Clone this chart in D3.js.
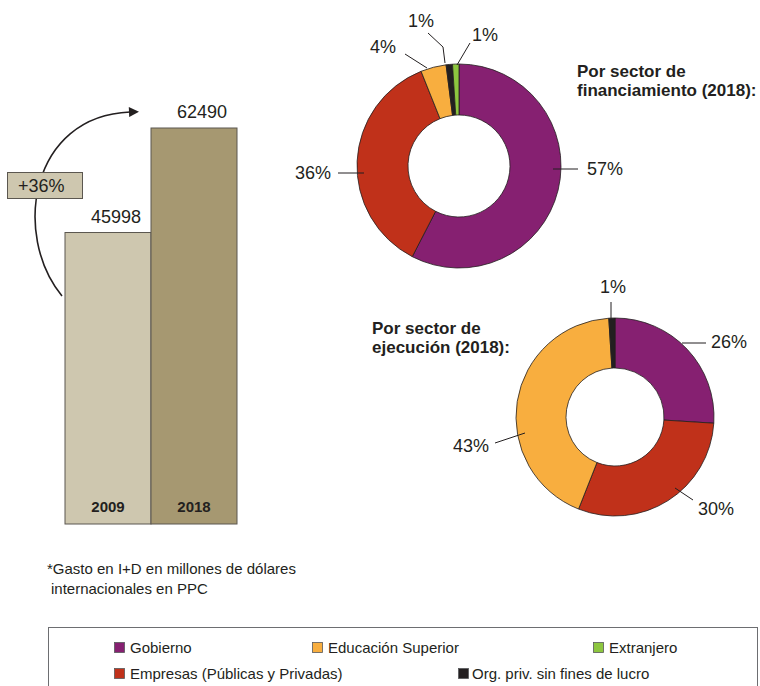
<!DOCTYPE html>
<html>
<head>
<meta charset="utf-8">
<script src="https://cdn.jsdelivr.net/npm/d3@7"></script>
<style>
  html, body { margin: 0; padding: 0; background: #ffffff; }
  svg { display: block; font-family: "Liberation Sans", Arial, sans-serif; }
</style>
</head>
<body>
<svg id="chart" width="760" height="686"></svg>
<script>
// ---------------- DATA ----------------
const years = ["2009", "2018"];
const spending = [45998, 62490];
const growthLabel = "+36%";

const finSectors = ["Gobierno", "Empresas (Públicas y Privadas)", "Educación Superior", "Org. priv. sin fines de lucro", "Extranjero"];
const finValues = [57, 36, 4, 1, 1];

const ejeSectors = ["Gobierno", "Empresas (Públicas y Privadas)", "Educación Superior", "Org. priv. sin fines de lucro"];
const ejeValues = [26, 30, 43, 1];

const legendOrder = ["Gobierno", "Educación Superior", "Extranjero", "Empresas (Públicas y Privadas)", "Org. priv. sin fines de lucro"];

const finTitle = ["Por sector de", "financiamiento (2018):"];
const ejeTitle = ["Por sector de", "ejecución (2018):"];
const footnote = ["*Gasto en I+D en millones de dólares", "internacionales en PPC"];

// ---------------- STYLE ----------------
const ink = "#231f20";
const sectorColor = d3.scaleOrdinal()
  .domain(["Gobierno", "Empresas (Públicas y Privadas)", "Educación Superior", "Org. priv. sin fines de lucro", "Extranjero"])
  .range(["#862071", "#c0311a", "#f8ae3f", "#231f20", "#8dc63f"]);
const barColor = d3.scaleOrdinal().domain(years).range(["#cec7af", "#a69871"]);

const svg = d3.select("#chart");

// ---------------- BAR CHART ----------------
const x = d3.scaleBand().domain(years).range([65, 237]).padding(0);
const y = d3.scaleLinear().domain([0, d3.max(spending)]).range([524, 128]);

const barG = svg.append("g");
barG.selectAll("rect.bar")
  .data(years)
  .join("rect")
  .attr("class", "bar")
  .attr("x", d => x(d))
  .attr("y", (d, i) => y(spending[i]))
  .attr("width", x.bandwidth())
  .attr("height", (d, i) => y(0) - y(spending[i]))
  .attr("fill", d => barColor(d))
  .attr("stroke", "#5b5750")
  .attr("stroke-width", 1);

barG.selectAll("text.val")
  .data(years)
  .join("text")
  .attr("class", "val")
  .attr("x", d => x(d) + x.bandwidth() / 2 + 8)
  .attr("y", (d, i) => y(spending[i]) - 10)
  .attr("text-anchor", "middle")
  .attr("font-size", 18)
  .attr("fill", ink)
  .text((d, i) => spending[i]);

barG.selectAll("text.year")
  .data(years)
  .join("text")
  .attr("class", "year")
  .attr("x", d => x(d) + x.bandwidth() / 2)
  .attr("y", 512)
  .attr("text-anchor", "middle")
  .attr("font-size", 15)
  .attr("font-weight", "bold")
  .attr("fill", ink)
  .text(d => d);

// growth arrow
const defs = svg.append("defs");
defs.append("marker")
  .attr("id", "arrowhead")
  .attr("viewBox", "0 0 10 10")
  .attr("refX", 1)
  .attr("refY", 5)
  .attr("markerWidth", 11)
  .attr("markerHeight", 10)
  .attr("markerUnits", "userSpaceOnUse")
  .attr("orient", "auto")
  .append("path")
  .attr("d", "M0,0 L10,5 L0,10 Z")
  .attr("fill", ink);

svg.append("path")
  .attr("d", "M62,296 C12,235 30,116 130,112")
  .attr("fill", "none")
  .attr("stroke", ink)
  .attr("stroke-width", 1.6)
  .attr("marker-end", "url(#arrowhead)");

svg.append("rect")
  .attr("x", 7.5).attr("y", 172.5)
  .attr("width", 75).attr("height", 26)
  .attr("fill", "#cec7af")
  .attr("stroke", "#5b5750")
  .attr("stroke-width", 1);
svg.append("text")
  .attr("x", 18).attr("y", 192)
  .attr("font-size", 18)
  .attr("fill", ink)
  .text(growthLabel);

// ---------------- DONUTS ----------------
const pie = d3.pie().sort(null).value(d => d);

function donut(cx, cy, R, r, sectors, values) {
  const arc = d3.arc().innerRadius(r).outerRadius(R);
  const g = svg.append("g").attr("transform", `translate(${cx},${cy})`);
  g.selectAll("path")
    .data(pie(values))
    .join("path")
    .attr("d", arc)
    .attr("fill", (d, i) => sectorColor(sectors[i]))
    .attr("stroke", ink)
    .attr("stroke-width", 0.8);
}

function label(txt, tx, ty, pts) {
  svg.append("polyline")
    .attr("points", pts.map(p => p.join(",")).join(" "))
    .attr("fill", "none")
    .attr("stroke", ink)
    .attr("stroke-width", 1);
  svg.append("text")
    .attr("x", tx).attr("y", ty)
    .attr("font-size", 18)
    .attr("fill", ink)
    .text(txt);
}

donut(459, 166, 102, 51, finSectors, finValues);
donut(615, 417, 99, 49, ejeSectors, ejeValues);

const pct = v => v + "%";
// financing labels
label(pct(finValues[0]), 587, 175, [[553, 169], [578, 169]]);
label(pct(finValues[1]), 295, 179, [[338, 173], [364, 173]]);
label(pct(finValues[2]), 370, 53, [[405, 54], [427, 68]]);
label(pct(finValues[3]), 408, 27, [[428, 33], [443, 47], [445, 63]]);
label(pct(finValues[4]), 472, 41, [[470, 43], [457, 65]]);
// execution labels
label(pct(ejeValues[0]), 711, 348, [[682, 343], [706, 343]]);
label(pct(ejeValues[1]), 698, 515, [[675, 488], [693, 500]]);
label(pct(ejeValues[2]), 453, 452, [[495, 443], [525, 433]]);
label(pct(ejeValues[3]), 600, 293, [[611, 302], [611, 320]]);

function title(lines, tx, ty) {
  svg.append("text")
    .attr("font-size", 17)
    .attr("font-weight", "bold")
    .attr("fill", ink)
    .selectAll("tspan")
    .data(lines)
    .join("tspan")
    .attr("x", tx)
    .attr("y", (d, i) => ty + i * 18.5)
    .text(d => d);
}
title(finTitle, 577, 77);
title(ejeTitle, 372, 334);

// ---------------- FOOTNOTE ----------------
svg.append("text")
  .attr("font-size", 15)
  .attr("fill", ink)
  .selectAll("tspan")
  .data(footnote)
  .join("tspan")
  .attr("x", (d, i) => i === 0 ? 47 : 51)
  .attr("y", (d, i) => 574 + i * 19.5)
  .text(d => d);

// ---------------- LEGEND ----------------
svg.append("rect")
  .attr("x", 48.5).attr("y", 627.5)
  .attr("width", 709).attr("height", 80)
  .attr("fill", "none")
  .attr("stroke", "#6d6e71")
  .attr("stroke-width", 1);

const legendPos = {
  "Gobierno": [114, 642],
  "Educación Superior": [312, 642],
  "Extranjero": [593, 642],
  "Empresas (Públicas y Privadas)": [114, 668],
  "Org. priv. sin fines de lucro": [458, 668]
};
const lg = svg.append("g").selectAll("g")
  .data(legendOrder)
  .join("g")
  .attr("transform", d => `translate(${legendPos[d][0]},${legendPos[d][1]})`);
lg.append("rect")
  .attr("x", 0.5).attr("y", 0.5)
  .attr("width", 10).attr("height", 10)
  .attr("fill", d => sectorColor(d))
  .attr("stroke", "#58595b")
  .attr("stroke-width", 0.8);
lg.append("text")
  .attr("x", d => d === "Org. priv. sin fines de lucro" ? 14 : 16)
  .attr("y", 10.5)
  .attr("font-size", 15)
  .attr("fill", ink)
  .text(d => d);
</script>
</body>
</html>
